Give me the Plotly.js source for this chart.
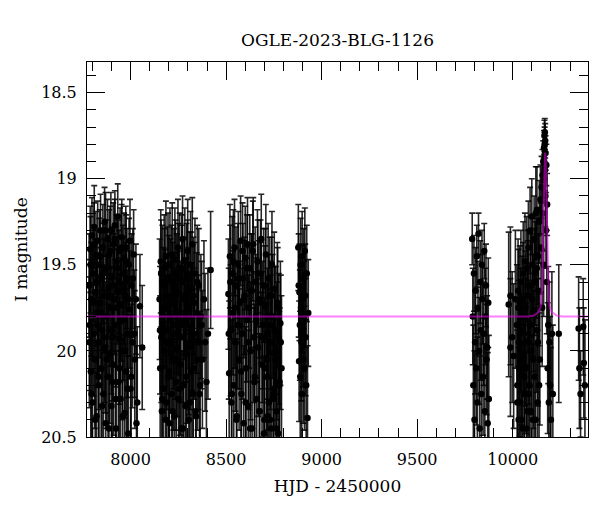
<!DOCTYPE html>
<html>
<head>
<meta charset="utf-8">
<script src="https://cdn.plot.ly/plotly-3.0.1.min.js"></script>
<style>html,body{margin:0;padding:0;background:#fff;}#chart{width:600px;height:512px;}</style>
</head>
<body>
<div id="chart"></div>
<script>
// ---- Observations (HJD - 2450000, I mag, error) by season ----
const t1 = [7783,7786,7789,7792,7795,7798,7801,7804,7807,7810,
  7813,7816,7819,7822,7825,7828,7831,7834,7837,7840,
  7843,7846,7849,7852,7855,7858,7861,7864,7867,7870,
  7873,7876,7879,7882,7885,7888,7891,7894,7897,7900,
  7903,7906,7909,7912,7915,7918,7921,7924,7927,7930,
  7933,7936,7939,7942,7945,7948,7951,7954,7957,7960,
  7963,7966,7969,7972,7975,7978,7981,7984,7988,7992,
  7996,8000,8005,8010,8016,8022,8028,8035,8049,8061];
const m1 = [19.62,19.85,19.41,20.12,19.70,19.33,20.30,19.55,19.90,19.28,
  20.05,19.66,19.45,20.38,19.78,19.36,19.95,20.20,19.50,19.72,
  19.30,20.10,19.58,19.88,19.40,20.25,19.68,19.25,19.98,20.42,
  19.52,19.80,19.35,20.15,19.63,19.44,20.02,19.75,19.30,20.32,
  19.57,19.92,19.38,20.08,19.70,19.27,19.85,20.45,19.48,19.65,
  19.22,20.18,19.60,19.93,19.42,20.28,19.73,19.34,20.00,19.55,
  19.82,19.46,20.36,19.68,19.40,20.12,19.58,19.90,20.48,19.50,
  19.76,20.22,19.62,19.95,19.44,20.05,19.70,20.30,19.74,19.98];
const e1 = [0.30,0.38,0.25,0.42,0.33,0.22,0.45,0.28,0.36,0.24,
  0.40,0.31,0.26,0.44,0.35,0.23,0.39,0.43,0.27,0.32,
  0.21,0.41,0.29,0.37,0.25,0.44,0.33,0.20,0.38,0.45,
  0.28,0.35,0.23,0.42,0.30,0.26,0.40,0.34,0.22,0.44,
  0.29,0.37,0.24,0.41,0.32,0.20,0.36,0.45,0.27,0.31,
  0.19,0.43,0.30,0.38,0.25,0.44,0.33,0.22,0.40,0.28,
  0.35,0.26,0.45,0.31,0.24,0.42,0.29,0.37,0.45,0.27,
  0.34,0.43,0.30,0.38,0.26,0.40,0.32,0.44,0.30,0.36];
const t1b = [7784,7790,7796,7803,7809,7815,7821,7827,7833,7839,
  7845,7851,7857,7863,7869,7875,7881,7887,7893,7899,
  7905,7911,7917,7923,7929,7935,7941,7947,7953,7959,
  7965,7971,7977,7983,7990,7997,8003,8012,8020,8031];
const m1b = [19.95,19.50,20.25,19.72,19.38,20.40,19.60,19.85,20.15,19.45,
  19.78,20.32,19.55,19.92,19.30,20.05,19.68,20.45,19.42,19.88,
  20.18,19.62,19.35,20.28,19.75,19.52,20.10,19.82,19.40,20.38,
  19.65,20.00,19.48,20.22,19.70,19.36,20.15,19.58,19.90,20.42];
const e1b = [0.38,0.28,0.43,0.33,0.24,0.45,0.30,0.36,0.42,0.27,
  0.34,0.44,0.29,0.38,0.22,0.40,0.32,0.45,0.26,0.37,
  0.42,0.30,0.23,0.44,0.34,0.28,0.41,0.36,0.25,0.45,
  0.31,0.39,0.27,0.43,0.33,0.24,0.42,0.29,0.37,0.45];

const t2 = [8152,8155,8158,8161,8164,8167,8170,8173,8176,8179,
  8182,8185,8188,8191,8194,8197,8200,8203,8206,8209,
  8212,8215,8218,8221,8224,8227,8230,8233,8236,8239,
  8242,8245,8248,8251,8254,8257,8260,8263,8266,8269,
  8272,8275,8278,8281,8284,8287,8290,8293,8296,8299,
  8302,8305,8308,8311,8314,8317,8320,8323,8326,8329,
  8333,8337,8341,8346,8351,8357,8364,8372,8390,8419];
const m2 = [19.70,20.10,19.48,19.92,20.35,19.60,19.85,20.22,19.52,20.00,
  19.75,19.45,20.30,19.88,19.58,20.15,19.68,20.42,19.50,19.95,
  19.80,20.25,19.44,19.72,20.05,19.62,20.38,19.90,19.55,20.18,
  19.66,19.98,19.40,20.28,19.78,19.52,20.08,19.85,20.45,19.60,
  19.35,19.92,20.20,19.70,19.48,20.32,19.82,19.58,20.02,19.42,
  19.75,20.40,19.64,19.95,19.50,20.12,19.86,19.38,20.25,19.68,
  19.90,19.55,20.35,19.78,20.05,19.62,20.20,19.85,19.95,19.53];
const e2 = [0.35,0.42,0.30,0.38,0.45,0.33,0.36,0.43,0.31,0.40,
  0.34,0.32,0.44,0.37,0.30,0.42,0.35,0.45,0.33,0.39,
  0.36,0.44,0.30,0.35,0.41,0.33,0.45,0.38,0.31,0.42,
  0.34,0.40,0.28,0.44,0.36,0.32,0.41,0.37,0.45,0.33,
  0.25,0.38,0.43,0.35,0.31,0.44,0.36,0.32,0.40,0.30,
  0.35,0.45,0.33,0.39,0.31,0.42,0.37,0.27,0.44,0.34,
  0.38,0.32,0.45,0.35,0.41,0.33,0.43,0.37,0.40,0.34];
const t2b = [8154,8160,8166,8172,8178,8184,8190,8196,8202,8208,
  8214,8220,8226,8232,8238,8244,8250,8256,8262,8268,
  8274,8280,8286,8292,8298,8304,8310,8316,8322,8328,
  8335,8343,8349,8355,8361,8368,8376,8384,8397,8405];
const m2b = [19.88,19.55,20.28,19.75,19.62,20.40,19.95,19.50,20.12,19.70,
  19.60,20.35,19.85,19.47,20.05,19.78,19.58,20.22,19.92,19.52,
  20.45,19.68,19.82,20.15,19.55,19.98,20.30,19.64,19.88,20.10,
  19.72,20.38,19.60,19.95,20.25,19.80,20.05,19.70,20.18,19.90];
const e2b = [0.37,0.31,0.44,0.35,0.33,0.45,0.39,0.30,0.42,0.35,
  0.33,0.45,0.37,0.30,0.41,0.35,0.32,0.43,0.38,0.31,
  0.45,0.34,0.36,0.42,0.31,0.39,0.44,0.33,0.37,0.41,
  0.35,0.45,0.33,0.39,0.43,0.36,0.40,0.34,0.42,0.38];

const t3 = [8512,8516,8520,8524,8528,8532,8536,8540,8544,8548,
  8552,8556,8560,8564,8568,8572,8576,8580,8584,8588,
  8592,8596,8600,8604,8608,8612,8616,8620,8624,8628,
  8632,8636,8640,8644,8648,8652,8656,8660,8664,8668,
  8672,8676,8680,8684,8688,8692,8696,8700,8704,8708,
  8712,8716,8720,8724,8728,8732,8736,8740,8744,8748,
  8752,8756,8760,8764,8768,8772,8776,8780,8784,8790];
const m3 = [19.67,20.13,19.45,19.88,20.30,19.55,19.78,20.20,19.40,19.95,
  19.62,20.38,19.85,19.50,20.05,19.72,19.36,20.25,19.90,19.58,
  20.42,19.68,19.46,20.10,19.82,19.38,20.32,19.75,19.52,20.00,
  19.65,20.45,19.42,19.92,20.18,19.60,19.80,20.28,19.48,19.98,
  19.70,20.35,19.55,19.35,20.08,19.85,19.62,20.40,19.74,19.44,
  20.15,19.90,19.58,20.30,19.68,19.95,20.45,19.50,19.80,20.22,
  19.64,20.05,19.88,20.35,19.72,20.48,19.93,20.18,19.84,20.10];
const e3 = [0.32,0.42,0.30,0.38,0.44,0.33,0.36,0.43,0.28,0.40,
  0.34,0.45,0.37,0.31,0.41,0.35,0.26,0.44,0.38,0.32,
  0.45,0.34,0.30,0.42,0.36,0.27,0.44,0.35,0.31,0.40,
  0.33,0.45,0.29,0.38,0.43,0.32,0.36,0.44,0.30,0.40,
  0.34,0.45,0.31,0.26,0.42,0.37,0.33,0.45,0.35,0.29,
  0.43,0.38,0.32,0.44,0.34,0.39,0.45,0.31,0.36,0.43,
  0.33,0.41,0.37,0.45,0.35,0.45,0.38,0.43,0.36,0.42];
const t3b = [8514,8522,8530,8538,8546,8554,8562,8570,8578,8586,
  8594,8602,8610,8618,8626,8634,8642,8650,8658,8666,
  8674,8682,8690,8698,8706,8714,8722,8730,8738,8746,
  8754,8762,8770,8778,8786,8702,8718,8734,8750,8766];
const m3b = [19.90,19.60,20.25,19.48,19.75,20.40,19.58,19.85,20.12,19.42,
  19.70,20.30,19.52,19.95,20.45,19.65,19.38,20.15,19.82,19.55,
  20.35,19.72,19.92,20.48,19.62,20.05,19.80,20.40,19.68,20.28,
  19.88,20.45,19.75,20.20,19.95,20.10,20.38,19.85,20.25,20.00];
const e3b = [0.38,0.33,0.43,0.30,0.35,0.45,0.32,0.37,0.42,0.28,
  0.34,0.44,0.31,0.39,0.45,0.33,0.27,0.42,0.36,0.31,
  0.45,0.35,0.38,0.45,0.33,0.41,0.36,0.45,0.34,0.44,
  0.37,0.45,0.35,0.43,0.39,0.41,0.45,0.37,0.43,0.40];

const t4 = [8878,8880,8882,8884,8886,8888,8890,8892,8894,8896,
  8898,8900,8902,8904,8906,8908,8910,8912,8914,8916,
  8919,8922,8926,8930];
const m4 = [19.40,19.62,20.06,19.66,19.85,20.15,19.50,19.75,19.95,20.25,
  19.45,19.70,19.88,20.05,19.58,19.80,20.10,19.42,19.68,19.92,
  20.20,19.55,20.39,19.78];
const e4 = [0.25,0.30,0.35,0.28,0.32,0.38,0.27,0.30,0.34,0.40,
  0.26,0.31,0.33,0.37,0.29,0.32,0.36,0.25,0.30,0.34,
  0.38,0.28,0.42,0.31];

const t5 = [9788,9791,9794,9797,9800,9803,9806,9809,9812,9815,
  9818,9821,9824,9827,9830,9833,9836,9839,9842,9845,
  9848,9851,9854,9857,9860,9863,9866,9869,9872,9875];
const m5 = [19.35,19.80,20.20,19.55,20.40,19.95,19.65,20.10,19.45,20.30,
  19.75,19.32,20.00,20.45,19.60,19.88,20.25,19.50,19.70,20.15,
  19.90,19.42,20.35,19.80,19.62,20.05,19.98,20.42,19.72,20.28];
const e5 = [0.15,0.28,0.35,0.22,0.40,0.30,0.25,0.33,0.18,0.38,
  0.27,0.12,0.31,0.42,0.24,0.29,0.36,0.20,0.26,0.34,
  0.30,0.16,0.39,0.28,0.24,0.32,0.30,0.41,0.26,0.37];

const t6 = [9979,9988,9988,9997,10005,10014,
  10022,10025,10028,10031,10034,10037,10040,10043,10046,10049,
  10052,10055,10058,10061,10064,10067,10070,10073,10076,10079,
  10082,10085,10088,10091,10094,10097,10100,10103,10106,10109,
  10112,10115,10118,10121,10124,10127,10130,10133,10136,10139,
  10142,10145,10148,10151,10154,10156,10158,10160,10162,10164,
  10165,10166,10167,10168,10169,10170,10171,10172,10174,10176,
  10178,10180,10183,10186,10189,10192,10196,10200,10205,10210,
  10241];
const m6 = [19.73,19.68,19.98,19.92,20.03,19.70,
  19.85,20.20,19.65,20.40,19.95,19.72,20.30,19.60,20.05,19.80,
  20.45,19.55,19.90,20.25,19.48,19.75,20.10,19.52,20.35,19.68,
  19.40,19.95,20.20,19.30,19.62,20.00,19.22,19.50,20.40,19.78,
  19.35,20.15,19.55,19.20,19.88,19.18,20.30,19.45,19.65,19.25,
  20.05,19.12,19.40,19.05,19.75,18.98,19.20,18.90,19.50,18.82,
  19.00,18.75,18.80,18.73,18.95,18.78,19.10,18.85,19.30,18.92,
  19.60,19.15,20.10,19.85,20.30,19.95,20.20,20.40,19.90,20.25,
  19.90];
const e6 = [0.42,0.40,0.40,0.38,0.42,0.40,
  0.35,0.40,0.30,0.42,0.36,0.33,0.42,0.30,0.38,0.35,
  0.44,0.30,0.36,0.40,0.28,0.33,0.38,0.30,0.42,0.32,
  0.27,0.36,0.40,0.25,0.30,0.37,0.22,0.28,0.44,0.34,
  0.25,0.40,0.30,0.27,0.36,0.25,0.42,0.28,0.32,0.24,
  0.38,0.20,0.26,0.18,0.34,0.15,0.22,0.12,0.30,0.10,
  0.14,0.09,0.10,0.08,0.12,0.10,0.18,0.10,0.22,0.12,
  0.30,0.18,0.38,0.34,0.40,0.35,0.40,0.42,0.36,0.40,
  0.40];
const t6b = [10024,10030,10036,10042,10048,10054,10060,10066,10072,10078,
  10084,10090,10096,10102,10108,10114,10120,10126,10132,10138];
const m6b = [20.30,19.75,20.10,19.88,20.40,19.70,20.15,19.95,20.45,19.62,
  20.25,19.85,20.35,19.70,20.05,19.60,20.40,19.52,19.95,20.20];
const e6b = [0.42,0.34,0.40,0.36,0.44,0.33,0.40,0.37,0.44,0.32,
  0.42,0.36,0.44,0.33,0.40,0.31,0.44,0.29,0.37,0.42];

const t7 = [10345,10349,10355,10369,10372,10378];
const m7 = [19.87,20.10,20.25,19.86,20.07,20.20];
const e7 = [0.30,0.35,0.25,0.28,0.32,0.38];

// ---- Model light curve ----
const modelT = [7772,10080,10110,10125,10135,10145,10151,10155,10158,10161,10164,10166,10168,
  10170,10172,10174,10176,10179,10182,10185,10189,10195,10205,10230,10260,10394];
const modelM = [19.80,19.80,19.795,19.785,19.775,19.75,19.69,19.59,19.47,19.30,19.08,18.97,18.88,
  18.85,18.88,18.97,19.08,19.30,19.47,19.59,19.69,19.75,19.775,19.795,19.80,19.80];

const xTickVals = [8000,8500,9000,9500,10000];
const xTickText = ['8000','8500','9000','9500','10000'];
const yTickVals = [18.5,19,19.5,20,20.5];
const yTickText = ['18.5','19','19.5','20','20.5'];
const titleText = 'OGLE-2023-BLG-1126';
const xTitle = 'HJD - 2450000';
const yTitle = 'I magnitude';

const hjd = [].concat(t1,t1b,t2,t2b,t3,t3b,t4,t5,t6,t6b,t7);
const imag = [].concat(m1,m1b,m2,m2b,m3,m3b,m4,m5,m6,m6b,m7);
const ierr = [].concat(e1,e1b,e2,e2b,e3,e3b,e4,e5,e6,e6b,e7);

const FONT = 'DejaVu Serif, serif';

const data = [
  {
    type: 'scatter', mode: 'markers', x: hjd, y: imag,
    marker: {color: 'black', size: 6.5},
    error_y: {type: 'data', array: ierr, visible: true, color: 'rgba(0,0,0,0.85)', thickness: 1.6, width: 3},
    hoverinfo: 'skip', showlegend: false
  },
  {
    type: 'scatter', mode: 'lines', x: modelT, y: modelM,
    line: {color: 'rgba(255,0,255,0.5)', width: 2},
    hoverinfo: 'skip', showlegend: false
  }
];

const axisCommon = {
  showline: true, linecolor: 'black', linewidth: 1, mirror: 'allticks',
  ticks: 'inside', ticklen: 18, tickwidth: 1, tickcolor: 'black',
  showgrid: false, zeroline: false, tickmode: 'array',
  tickfont: {family: FONT, size: 16, color: 'black'}
};

const layout = {
  width: 600, height: 512,
  margin: {l: 87, r: 12, t: 62, b: 75},
  paper_bgcolor: 'white', plot_bgcolor: 'white',
  font: {family: FONT, color: 'black'},
  title: {text: titleText, font: {family: FONT, size: 17, color: 'black'},
          xref: 'paper', x: 0.5, xanchor: 'center', yref: 'container', y: 1 - 40/512, yanchor: 'middle'},
  xaxis: Object.assign({}, axisCommon, {
    range: [7772, 10394], tickvals: xTickVals, ticktext: xTickText, ticklabelstandoff: 8,
    minor: {dtick: 100, ticks: 'inside', ticklen: 9, tickcolor: 'black', tickwidth: 1, showgrid: false},
    title: {text: xTitle, font: {family: FONT, size: 17, color: 'black'}, standoff: 11}
  }),
  yaxis: Object.assign({}, axisCommon, {
    range: [20.5, 18.322], tickvals: yTickVals, ticktext: yTickText, ticklabelstandoff: 6,
    minor: {dtick: 0.1, ticks: 'inside', ticklen: 9, tickcolor: 'black', tickwidth: 1, showgrid: false},
    title: {text: yTitle, font: {family: FONT, size: 17, color: 'black'}, standoff: 9}
  })
};

Plotly.newPlot('chart', data, layout, {staticPlot: true, displayModeBar: false});
</script>
</body>
</html>
